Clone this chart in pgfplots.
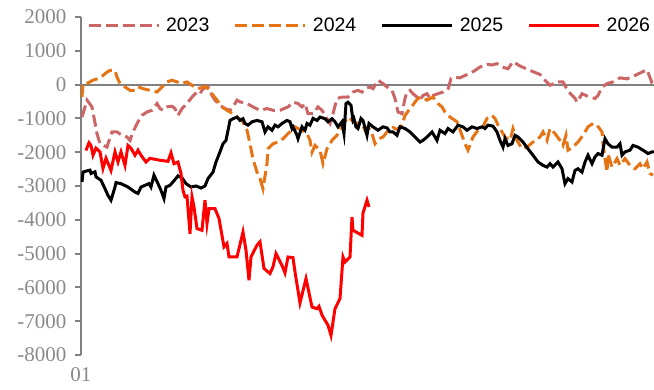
\documentclass[border=0pt]{standalone}
\usepackage{fontspec}
\setmainfont{Liberation Serif}
\newfontfamily\legfont{Liberation Sans}
\usepackage{pgfplots}
\pgfplotsset{compat=1.18}
\definecolor{c23}{RGB}{204,102,102}
\definecolor{c24}{RGB}{230,115,20}
\definecolor{axgray}{RGB}{128,128,128}
\definecolor{lblgray}{RGB}{137,137,137}
\begin{document}
\begin{tikzpicture}
\begin{axis}[
 scale only axis, width=573pt, height=338pt,
 xmin=0, xmax=573, ymin=-8000, ymax=2000,
 axis y line*=left, axis x line*=bottom,
 x axis line style={draw=none},
 y axis line style={axgray, line width=2pt},
 ytick={-8000,-7000,...,2000},
 yticklabels={-8000,-7000,-6000,-5000,-4000,-3000,-2000,-1000,0,1000,2000},
 tick align=outside,
 major tick length=6pt,
 ytick style={axgray, line width=2pt},
 xtick={0}, xticklabels={01},
 xtick style={draw=none},
 ticklabel style={font=\fontsize{21}{25}\selectfont, text=lblgray},
 yticklabel style={xshift=-5pt},
 xticklabel style={yshift=-3pt},
 legend columns=4,
 legend style={draw=none, fill=none, at={(0.005,0.976)}, anchor=west,
   font=\legfont\fontsize{19.5}{22}\selectfont, text=black,
   nodes={inner sep=0pt},
   /tikz/every odd column/.append style={column sep=6pt},
   /tikz/every even column/.append style={column sep=24.5pt}},
 legend image code/.code={\draw[#1] (0pt,0pt) -- (70pt,0pt);},
]
\draw[axgray, line width=2pt] (axis cs:0,0) -- (axis cs:573,0);
\addplot[c23, line width=3pt, dash pattern=on 12pt off 5pt] coordinates {
(1,-960)(6,-460)(11,-660)(16,-1450)(19,-1750)(26,-1850)(27,-1750)(31,-1400)(36,-1400)(41,-1500)
(46,-1550)(49,-1650)(52,-1400)(57,-1100)(61,-910)(66,-810)(71,-760)(76,-560)(79,-710)(82,-760)
(86,-660)(91,-640)(94,-710)(97,-910)(101,-710)(106,-560)(111,-370)(116,-220)(119,-270)(122,-120)
(127,-70)(131,-320)(134,-460)(139,-610)(144,-710)(149,-760)(152,-660)(156,-460)(159,-510)(166,-560)
(172,-660)(179,-760)(186,-710)(192,-760)(199,-760)(207,-660)(212,-520)(217,-560)(221,-660)(224,-560)
(227,-860)(232,-860)(237,-660)(241,-760)(244,-910)(249,-1150)(252,-860)(256,-410)(261,-370)(267,-370)
(272,-220)(277,-170)(281,-220)(284,-120)(289,-70)(292,-120)(297,130)(302,30)(306,-70)(311,-170)
(314,-410)(317,-810)(321,-860)(324,-410)(326,-220)(329,-170)(332,-270)(336,-370)(339,-460)(342,-320)
(346,-270)(349,-410)(352,-320)(357,-270)(362,-220)(367,-150)(370,180)(374,220)(379,200)(384,270)
(389,330)(394,420)(399,520)(406,600)(411,580)(416,620)(421,520)(427,470)(432,680)(439,550)
(449,420)(459,300)(464,130)(469,-20)(476,80)(482,80)(487,-200)(494,-400)(496,-520)(501,-270)
(507,-350)(514,-410)(517,-320)(521,-80)(526,30)(532,80)(539,200)(546,170)(554,270)(561,370)
(566,440)(571,50)(573,-20)};
\addlegendentry{2023}
\addplot[c24, line width=3pt, dash pattern=on 12pt off 5pt] coordinates {
(1,-370)(2,30)(7,50)(12,130)(17,180)(22,270)(26,370)(29,420)(34,420)(36,220)
(39,30)(44,-70)(49,-170)(54,-170)(57,-70)(62,-120)(69,-170)(76,-220)(81,-70)(86,80)
(91,130)(96,80)(101,30)(106,80)(111,-20)(116,-120)(121,-90)(124,-50)(127,-120)(131,-270)
(136,-460)(141,-660)(146,-760)(149,-810)(156,-960)(161,-1060)(166,-1350)(169,-1750)(172,-2200)(176,-2590)
(179,-2780)(182,-3080)(186,-2340)(187,-1900)(192,-1750)(197,-1700)(202,-1600)(207,-1450)(214,-1250)(217,-1300)
(221,-1350)(226,-1450)(229,-1650)(231,-2000)(234,-1800)(239,-1940)(242,-2340)(246,-1900)(251,-1650)(256,-1500)
(259,-1350)(264,-1100)(267,-960)(271,-1060)(276,-1150)(281,-1150)(284,-1350)(287,-1250)(291,-1450)(294,-1750)
(298,-1600)(302,-1550)(306,-1400)(309,-1350)(312,-1270)(316,-1330)(321,-1200)(324,-910)(329,-710)(334,-520)
(337,-410)(341,-370)(346,-460)(352,-370)(357,-560)(361,-660)(364,-810)(369,-960)(376,-1100)(381,-1500)
(384,-1750)(387,-1940)(392,-1550)(397,-1350)(401,-1300)(406,-1000)(411,-910)(414,-1000)(417,-1200)(421,-1400)
(424,-1550)(429,-1650)(432,-1300)(436,-1650)(441,-1900)(446,-1850)(452,-1700)(459,-1550)(462,-1400)(466,-1650)
(469,-1300)(474,-1450)(479,-1650)(482,-1800)(485,-1500)(487,-1940)(492,-1850)(497,-1700)(502,-1500)(507,-1250)
(512,-1150)(516,-1200)(521,-1400)(522,-1750)(524,-2190)(526,-2590)(527,-2050)(531,-2440)(536,-2190)(539,-2390)
(544,-2190)(549,-2390)(554,-2490)(559,-2340)(562,-2490)(566,-2290)(569,-2630)(572,-2680)};
\addlegendentry{2024}
\addplot[black, line width=3pt] coordinates {
(1,-2880)(2,-2590)(5,-2560)(9,-2530)(10,-2630)(14,-2580)(15,-2730)(20,-2830)(24,-3080)(27,-3280)
(30,-3420)(34,-3030)(35,-2900)(40,-2930)(47,-3030)(54,-3180)(57,-3220)(60,-3030)(64,-2980)(68,-2930)
(70,-3030)(73,-2680)(77,-2930)(80,-3130)(83,-3370)(85,-3030)(89,-2980)(92,-2880)(97,-2700)(101,-2760)
(105,-2930)(110,-3030)(115,-3000)(120,-3060)(124,-3000)(127,-2780)(132,-2590)(135,-2290)(139,-1990)(142,-1750)
(145,-1650)(149,-1060)(152,-1010)(156,-960)(159,-1060)(162,-1010)(164,-1150)(167,-1200)(171,-1100)(176,-1060)
(181,-1100)(184,-1400)(187,-1250)(191,-1350)(194,-1200)(197,-1250)(201,-1150)(206,-1060)(209,-1100)(211,-1300)
(212,-1250)(216,-1500)(217,-1600)(221,-1250)(224,-1350)(226,-1150)(229,-1200)(232,-1000)(236,-1060)(239,-960)
(244,-1010)(247,-1100)(251,-1010)(254,-1100)(257,-1250)(261,-1100)(263,-1450)(265,-560)(267,-520)(270,-610)
(272,-1060)(273,-1010)(275,-1250)(277,-1300)(280,-1000)(282,-1060)(286,-1500)(288,-1150)(292,-1250)(297,-1350)
(302,-1250)(306,-1280)(309,-1400)(312,-1400)(316,-1500)(319,-1250)(324,-1300)(329,-1400)(334,-1550)(339,-1700)
(342,-1650)(346,-1550)(351,-1400)(356,-1650)(359,-1350)(364,-1450)(367,-1300)(372,-1400)(377,-1200)(382,-1250)
(386,-1350)(391,-1250)(396,-1300)(401,-1250)(404,-1300)(407,-1200)(412,-1230)(416,-1400)(419,-1650)(422,-1850)
(424,-1600)(427,-1800)(431,-1750)(434,-1500)(437,-1550)(442,-1700)(447,-1900)(452,-2090)(457,-2290)(462,-2390)
(466,-2440)(469,-2340)(472,-2440)(477,-2290)(481,-2490)(484,-2930)(487,-2780)(491,-2880)(494,-2540)(497,-2490)
(501,-2590)(504,-2290)(507,-2090)(511,-2340)(514,-2140)(517,-2040)(521,-2090)(524,-1600)(527,-1750)(531,-1850)
(536,-1850)(539,-1750)(541,-2090)(544,-1990)(549,-1940)(552,-1800)(557,-1850)(562,-1940)(567,-2040)(571,-1990)
(573,-1990)};
\addlegendentry{2025}
\addplot[red, line width=3pt] coordinates {
(5,-1950)(8,-1720)(10,-1800)(12,-2090)(15,-1880)(19,-1990)(22,-2480)(25,-2180)(30,-2540)(34,-1990)
(37,-2290)(40,-1990)(44,-2390)(47,-1800)(50,-1880)(54,-2090)(57,-1940)(60,-2090)(65,-2290)(69,-2180)
(79,-2240)(87,-2270)(90,-2020)(93,-2340)(97,-2290)(100,-2630)(102,-3130)(104,-3320)(106,-3300)(109,-4410)
(111,-3320)(113,-3620)(116,-4260)(121,-4310)(124,-3420)(126,-4110)(128,-3670)(134,-3670)(138,-3960)(143,-4800)
(146,-4700)(148,-5100)(156,-5100)(162,-4360)(165,-4900)(168,-5790)(170,-5100)(176,-4750)(179,-4650)(183,-5440)
(189,-5590)(192,-5390)(195,-5000)(201,-5350)(204,-5570)(207,-5100)(212,-5120)(214,-5540)(219,-6460)(225,-5740)
(231,-6580)(236,-6630)(238,-6560)(241,-6820)(244,-6970)(247,-7120)(250,-7420)(254,-6630)(259,-6330)(262,-5100)
(264,-5250)(269,-5100)(271,-3920)(272,-4310)(281,-4460)(282,-3800)(286,-3420)(288,-3620)};
\addlegendentry{2026}
\end{axis}
\pgfresetboundingbox
\path[use as bounding box] (-81pt,-34pt) rectangle (573pt,355pt);
\end{tikzpicture}
\end{document}
